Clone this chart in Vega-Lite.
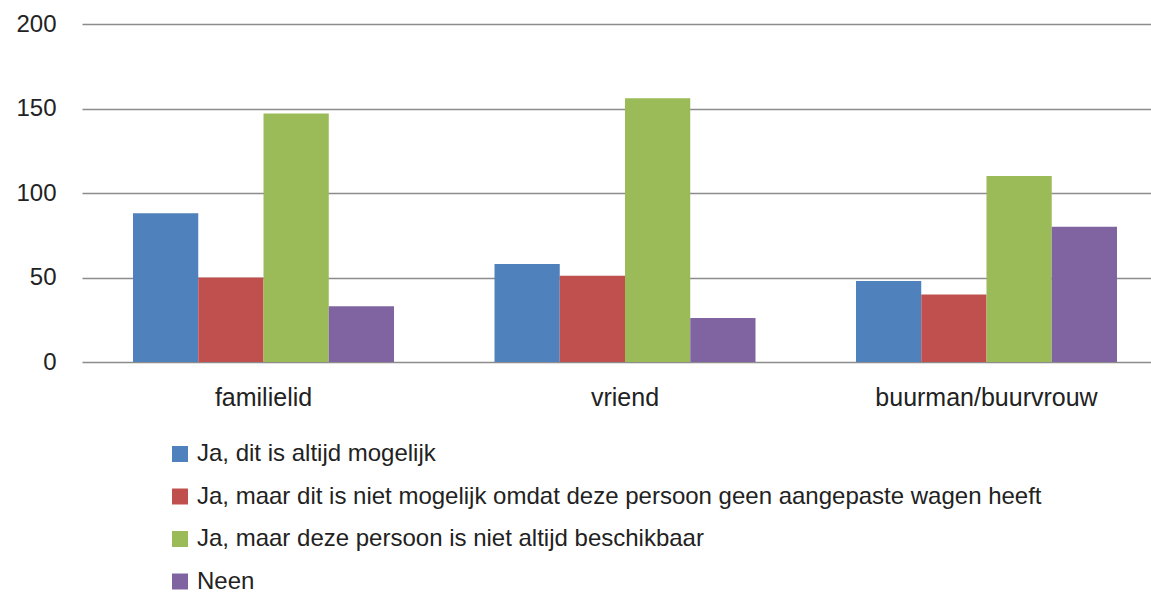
{
  "$schema": "https://vega.github.io/schema/vega-lite/v6.json",
  "width": 1069,
  "height": 338,
  "autosize": {"type": "none"},
  "padding": {"left": 82, "top": 24, "right": 0, "bottom": 236},
  "background": "white",
  "data": {
    "values": [
      {"groep": "familielid", "antwoord": "Ja, dit is altijd mogelijk", "aantal": 88},
      {"groep": "familielid", "antwoord": "Ja, maar dit is niet mogelijk omdat deze persoon geen aangepaste wagen heeft", "aantal": 50},
      {"groep": "familielid", "antwoord": "Ja, maar deze persoon is niet altijd beschikbaar", "aantal": 147},
      {"groep": "familielid", "antwoord": "Neen", "aantal": 33},
      {"groep": "vriend", "antwoord": "Ja, dit is altijd mogelijk", "aantal": 58},
      {"groep": "vriend", "antwoord": "Ja, maar dit is niet mogelijk omdat deze persoon geen aangepaste wagen heeft", "aantal": 51},
      {"groep": "vriend", "antwoord": "Ja, maar deze persoon is niet altijd beschikbaar", "aantal": 156},
      {"groep": "vriend", "antwoord": "Neen", "aantal": 26},
      {"groep": "buurman/buurvrouw", "antwoord": "Ja, dit is altijd mogelijk", "aantal": 48},
      {"groep": "buurman/buurvrouw", "antwoord": "Ja, maar dit is niet mogelijk omdat deze persoon geen aangepaste wagen heeft", "aantal": 40},
      {"groep": "buurman/buurvrouw", "antwoord": "Ja, maar deze persoon is niet altijd beschikbaar", "aantal": 110},
      {"groep": "buurman/buurvrouw", "antwoord": "Neen", "aantal": 80}
    ]
  },
  "mark": {"type": "bar"},
  "encoding": {
    "x": {
      "field": "groep",
      "type": "nominal",
      "sort": ["familielid", "vriend", "buurman/buurvrouw"],
      "scale": {"paddingInner": 0.278, "paddingOuter": 0.1176, "align": 0.6},
      "axis": {
        "title": null,
        "labelAngle": 0,
        "labelFontSize": 25,
        "labelFont": "Liberation Sans",
        "labelColor": "#222222",
        "labelPadding": 23,
        "labelLimit": 500,
        "ticks": false,
        "domain": false
      }
    },
    "xOffset": {
      "field": "antwoord",
      "type": "nominal",
      "sort": [
        "Ja, dit is altijd mogelijk",
        "Ja, maar dit is niet mogelijk omdat deze persoon geen aangepaste wagen heeft",
        "Ja, maar deze persoon is niet altijd beschikbaar",
        "Neen"
      ],
      "scale": {"paddingInner": 0, "paddingOuter": 0}
    },
    "y": {
      "field": "aantal",
      "type": "quantitative",
      "scale": {"domain": [0, 200]},
      "axis": {
        "title": null,
        "values": [0, 50, 100, 150, 200],
        "labelFontSize": 24,
        "labelFont": "Liberation Sans",
        "labelColor": "#222222",
        "labelPadding": 26,
        "ticks": false,
        "domain": false,
        "grid": true,
        "gridColor": "#8c8c8c",
        "gridWidth": 1.5
      }
    },
    "color": {
      "field": "antwoord",
      "type": "nominal",
      "scale": {
        "domain": [
          "Ja, dit is altijd mogelijk",
          "Ja, maar dit is niet mogelijk omdat deze persoon geen aangepaste wagen heeft",
          "Ja, maar deze persoon is niet altijd beschikbaar",
          "Neen"
        ],
        "range": ["#4F81BD", "#C0504D", "#9BBB59", "#8064A2"]
      },
      "legend": {
        "title": null,
        "orient": "none",
        "legendX": 86,
        "legendY": 418,
        "direction": "vertical",
        "symbolType": "square",
        "symbolSize": 256,
        "symbolStrokeWidth": 0,
        "labelFontSize": 24,
        "labelFont": "Liberation Sans",
        "labelColor": "#222222",
        "labelOffset": 5,
        "labelLimit": 1100,
        "rowPadding": 18.5
      }
    }
  },
  "config": {"view": {"stroke": null}}
}
